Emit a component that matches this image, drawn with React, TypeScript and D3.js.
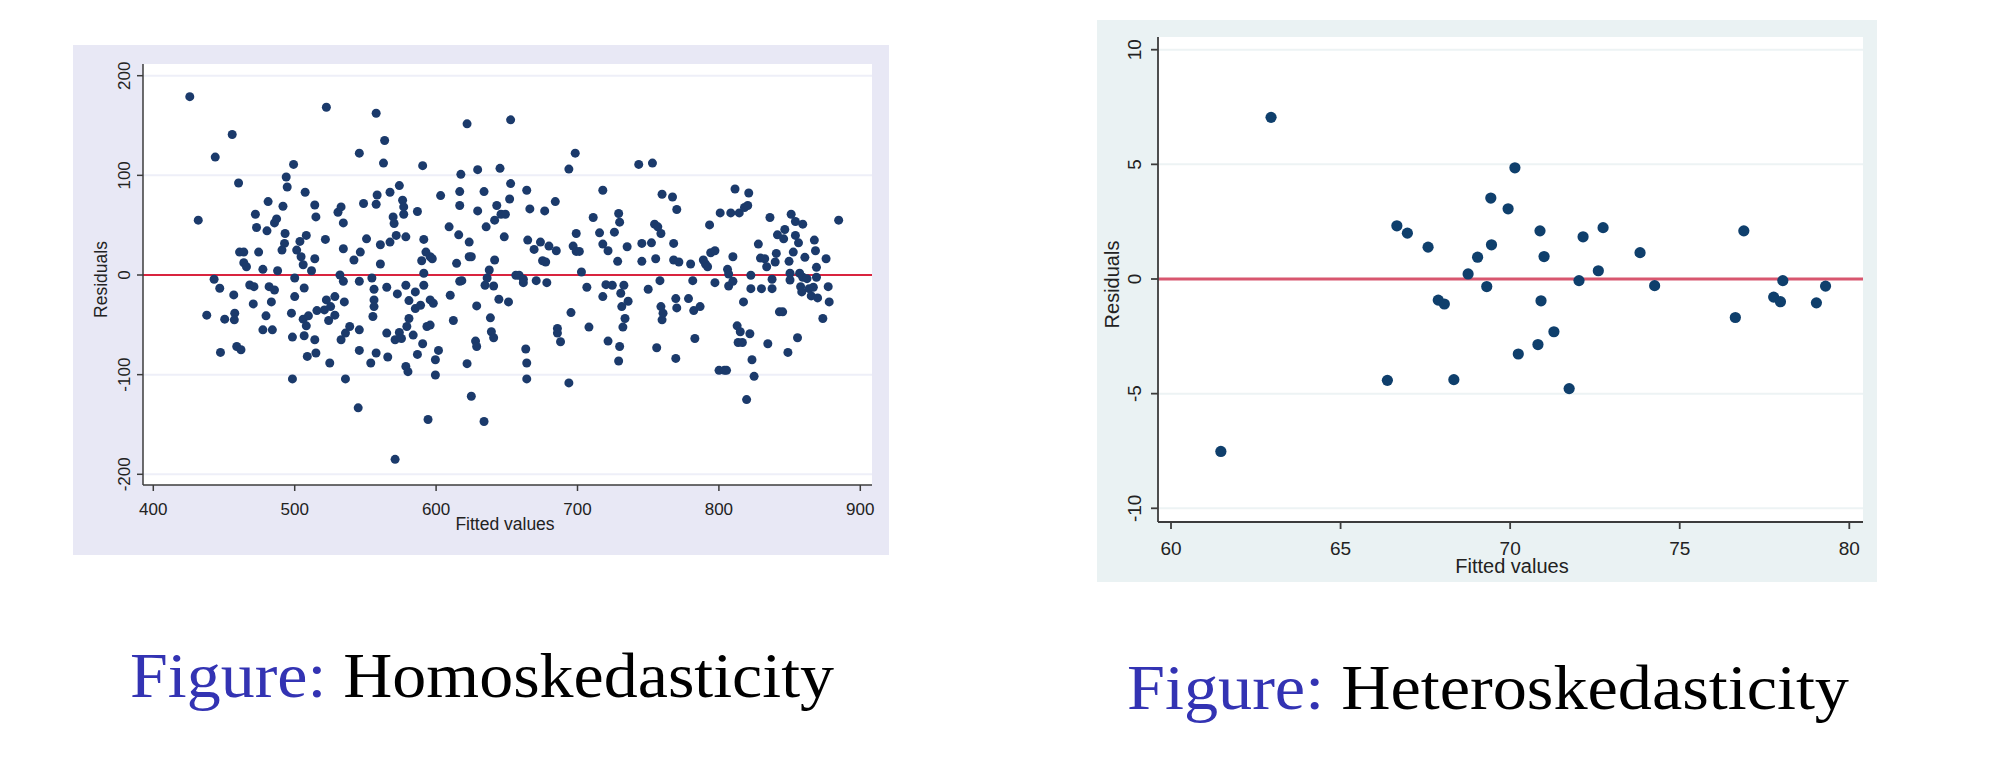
import React from "react";
import * as d3 from "d3";

// ---------- Data: Homoskedasticity ----------
const homoFitted = [
  425.8,431.8,437.8,443.8,443,447,447.5,450.5,455.8,456.9,457.6,457.3,460.3,459,462,461,464,464,465.9,468.2,
  471.2,472.2,473,470.7,474.5,477.5,477.5,479.7,481.2,480.4,481.9,483.5,484.2,485.7,487.2,485.7,487.9,491,491.7,492.8,
  493.2,494,494.7,497.7,498.4,498.4,499.2,500,500,501.4,503.7,504.5,506,506.7,506,507.4,506.7,508.2,508.2,508.9,
  509.7,511.9,514.2,515,514.2,514.2,515,515.7,521,521.7,522.4,522.4,524,524.8,525.4,528.4,528.4,530.6,532.8,532,
  532.8,534.4,534.4,534.4,535.9,535.1,535.9,538.9,541.9,544.9,545.7,545.7,545.7,545.7,546.4,548.7,550.8,553.8,554.6,556.1,
  556.1,556.1,555.3,557.6,558.3,557.6,557.6,560.6,560.6,562.8,563.6,565.1,565.1,565.8,567.4,567.4,569.6,570.3,571,571,
  571.8,572.6,574,574,575.5,576.3,577.1,577.1,578.6,578.6,579.3,578.6,580.1,580.8,580.8,583.8,585.3,585.3,586.8,586.8,
  589,589.8,590.5,591.3,591.3,591.3,590.5,592.8,593.5,594.3,595.8,595.8,595.8,597.3,598,599.5,599.5,601.7,603.2,609.2,
  610,612.2,614.5,616,616.7,616.7,617.5,616.7,618.2,621.9,621.9,623.4,623.4,624.9,624.9,627.9,628.7,628.7,629.4,629.4,
  633.9,633.9,634.6,635.4,636.1,637.6,638.4,639.1,640.7,640.7,641.4,641.4,642.9,645.2,644.4,645.9,648.2,649,651.2,652,
  652.7,652.7,656.4,658.7,661.7,661.7,664.1,663.4,664.1,664.1,664.8,666.3,669.3,670.8,673.8,675.3,676.8,677.5,678.3,679.8,
  684.3,685,685.8,685.8,688,693.9,693.9,695.4,696.9,698.4,699.1,699.1,701.3,702.8,706.6,708.1,711.1,715.6,717.9,717.9,
  717.9,720.1,721.6,721.6,724.6,726.1,728.4,729.1,729.8,729.8,729.1,730.6,731.3,732.1,732.8,733.6,735.1,735.8,743.3,745.5,
  745.5,750,752.3,753,754.5,755.3,756,756.8,758.3,759,759.8,759,759.8,760.5,767.2,768,768,769.5,770.2,770.2,
  769.5,771.7,778.5,780,781.5,782.2,783,786.7,789,790.5,792,793.4,794.2,797.2,797.2,800.9,800.1,803.9,805.4,806.1,
  806.9,806.9,808.4,809.9,809.9,811.4,812.9,813.6,814.4,815.1,816.6,817.4,818.1,819.6,820.4,821.1,821.9,822.6,822.6,823.4,
  824.9,827.9,829.4,830.1,832.4,833.8,834.6,836.1,837.6,837.6,839.8,840.6,841.4,842.8,845.1,845.8,846.6,848.8,849.6,851.1,
  850.3,850.3,852.6,854.1,855.6,856.3,857.1,857.8,858.6,859.3,854.1,859.3,860.8,862.3,863.8,865.3,866.8,867.5,868.3,869,
  869.8,869,873.5,875.8,877.3,878,884.7,
];
const homoResid = [
  179,55,-40.3,118.3,-4.3,-13.3,-77.7,-44.3,141,-20,-38.3,-45,92.3,-71.7,-75,23,23,12.3,8.3,-10,
  -11.7,61,47.7,-29,23,5.7,-55,-41,73.7,44.3,-11.7,-27,-55,52.3,56.3,-15,4.3,25,69,31.7,
  41.7,98.3,88.3,-38.3,-62.3,-104.3,111,-3,-21.7,25,33.7,18.3,10.3,-13,-44.3,83,-61,39.7,-51,-81.7,
  -41,4.3,70.3,58.3,16.3,-65,-78.3,-35.7,-35,35.7,168.3,-25,-45.7,-88.3,-31.7,-21.7,-40.3,63,68.3,0,
  -65,52.3,26.3,-6.3,-104.3,-27,-58.3,-51.7,15,-133.3,122.3,-6.3,-55,-75.7,23,71.7,36.3,-88.3,-3,-14.3,
  -25,-31.7,-41.7,162.3,80.3,71,-78.3,30.3,11,112.3,135,-12.3,-58.3,-82.3,33,83,58.3,51.7,-185,-65,
  39.7,-19,89.7,-57.7,-63.7,75,68.3,61,38.3,-10.3,-51.7,-91.7,-97,-25.7,-43.7,-60.3,-17,-33.7,63.7,-79.7,
  -30.3,14.3,109.7,35.7,1.7,-10.3,-69,23,-51.7,-145,18.3,-25,-50.3,16.3,-28.3,-85,-100.3,-75.7,79.7,48.3,
  -20.3,-45.7,11.7,40.3,-6.3,83.7,101,69.7,-5.7,-89,151.7,33,18.3,-121.7,18.3,-66.3,-71.7,-31,105.7,64.3,
  83.7,-147,-10.3,48.3,-3,5,-43,-57,-63,-11,15,55,69.7,107,-24.3,61,38.3,61,-27,76.3,
  91.7,155.7,-0.3,-0.3,-4.3,-7.7,85,-74.3,-88.3,-104.3,35,66.3,25.7,-5.7,33,14.3,64.3,13,-7.7,29,
  73.7,24.3,-53.7,-58.3,-67,106.3,-108.3,-37.7,29,122.3,41.7,23.7,23.7,3,-12.3,-52.3,57.7,42.3,85,31,
  -21.7,-9.7,24.3,-66.3,-10.3,43,13.7,61.7,53,-71.7,-86.3,-18.3,-31.7,-52.3,-10.3,-43.7,28.3,-26.3,111,13.7,
  31.7,-14.3,32.3,112.3,51,16.3,-73,48.3,-5.7,41.7,81,-31.7,-45,-38.3,78.3,15,31.7,-23.7,65.7,-33,
  -83.7,13,-23.7,11,-5.7,-35.7,-63.7,-31.7,15,11,8.3,50.3,22.3,24.3,-7.7,62.3,-95.7,-95.7,-95.7,5.7,
  1,-11,62.3,18.3,-6.3,86.3,-51,-67.7,62.3,-57,-67.7,-27,67.7,-125,69.7,82.3,-59,-0.3,-13.7,-85,
  -101.7,31,17,-13.7,16.3,8.3,-69,57.7,-13.7,-4.3,13,21.7,40.3,-37,-37,36.3,45.7,-77.7,13.7,61,
  1.7,-5,23,39.7,-63,32.3,1.7,-11.7,-17,-2.3,53.7,51,17.7,-3.7,-13.7,-21,-12.3,35,24.3,-2.3,
  -23,7.7,-43.7,16.3,-11.7,-27,55,
];
const homoXTicks = [400, 500, 600, 700, 800, 900];
const homoYTicks = [-200, -100, 0, 100, 200];

// ---------- Data: Heteroskedasticity ----------
const heteroFitted = [
  61.47, 62.95, 66.38, 66.66, 66.97, 67.58, 67.88, 68.06, 68.34, 68.76, 69.04, 69.31, 69.43, 69.45,
  69.94, 70.14, 70.24, 70.82, 70.88, 70.91, 71.0, 71.29, 71.74, 72.03, 72.15, 72.6, 72.74, 73.83,
  74.26, 76.64, 76.89, 77.77, 77.97, 78.04, 79.03, 79.3,
];
const heteroResid = [
  -7.52, 7.05, -4.42, 2.32, 2.0, 1.39, -0.92, -1.09, -4.39, 0.22, 0.95, -0.33, 3.53, 1.49,
  3.06, 4.85, -3.27, -2.86, 2.1, -0.95, 0.98, -2.3, -4.78, -0.07, 1.84, 0.36, 2.24, 1.15,
  -0.29, -1.68, 2.1, -0.79, -0.99, -0.07, -1.04, -0.31,
];
const heteroXTicks = [60, 65, 70, 75, 80];
const heteroYTicks = [-10, -5, 0, 5, 10];

const captionPrefix = "Figure:";
const captions = ["Homoskedasticity", "Heteroskedasticity"];

type PanelProps = {
  fitted: number[];
  resid: number[];
  xTicks: number[];
  yTicks: number[];
  bg: { x0: number; y0: number; x1: number; y1: number; fill: string };
  plot: { x0: number; y0: number; x1: number; y1: number };
  xRange: [number, number];
  yRange: [number, number];
  r: number;
  dotColor: string;
  refColor: string;
  refWidth: number;
  gridColor: string;
  tickFont: number;
  titleFont: number;
  yTickLabelX: number;
  yTitleX: number;
  xTickLabelY: number;
  xTitleY: number;
  xTitleX: number;
  axisWidth: number;
  tickLen: number;
};

function Panel(p: PanelProps) {
  const xDom = [p.xTicks[0], p.xTicks[p.xTicks.length - 1]];
  const yDom = [p.yTicks[0], p.yTicks[p.yTicks.length - 1]];
  const x = d3.scaleLinear().domain(xDom).range(p.xRange);
  const y = d3.scaleLinear().domain(yDom).range(p.yRange);
  const font = "Arial, 'Liberation Sans', sans-serif";
  const axisColor = "#3c3c3c";
  const pts = d3.zip(p.fitted, p.resid);
  return (
    <g>
      <rect x={p.bg.x0} y={p.bg.y0} width={p.bg.x1 - p.bg.x0} height={p.bg.y1 - p.bg.y0} fill={p.bg.fill} />
      <rect x={p.plot.x0} y={p.plot.y0} width={p.plot.x1 - p.plot.x0} height={p.plot.y1 - p.plot.y0} fill="#ffffff" />
      {p.yTicks.map((t) => (
        <line key={"g" + t} x1={p.plot.x0} x2={p.plot.x1} y1={y(t)} y2={y(t)} stroke={p.gridColor} strokeWidth={2} />
      ))}
      <line x1={p.plot.x0} x2={p.plot.x1} y1={y(0)} y2={y(0)} stroke={p.refColor} strokeWidth={p.refWidth} />
      {pts.map(([fv, rv], i) => (
        <circle key={i} cx={x(fv)} cy={y(rv)} r={p.r} fill={p.dotColor} />
      ))}
      <line x1={p.plot.x0} x2={p.plot.x0} y1={p.plot.y0} y2={p.plot.y1} stroke={axisColor} strokeWidth={p.axisWidth} />
      <line x1={p.plot.x0} x2={p.plot.x1} y1={p.plot.y1} y2={p.plot.y1} stroke={axisColor} strokeWidth={p.axisWidth} />
      {p.yTicks.map((t) => (
        <g key={"yt" + t}>
          <line x1={p.plot.x0 - p.tickLen} x2={p.plot.x0} y1={y(t)} y2={y(t)} stroke={axisColor} strokeWidth={p.axisWidth} />
          <text
            transform={`translate(${p.yTickLabelX},${y(t)}) rotate(-90)`}
            textAnchor="middle"
            dominantBaseline="central"
            fontFamily={font}
            fontSize={p.tickFont}
            fill="#222"
          >
            {String(t)}
          </text>
        </g>
      ))}
      {p.xTicks.map((t) => (
        <g key={"xt" + t}>
          <line x1={x(t)} x2={x(t)} y1={p.plot.y1} y2={p.plot.y1 + p.tickLen} stroke={axisColor} strokeWidth={p.axisWidth} />
          <text x={x(t)} y={p.xTickLabelY} textAnchor="middle" fontFamily={font} fontSize={p.tickFont} fill="#222">
            {String(t)}
          </text>
        </g>
      ))}
      <text
        transform={`translate(${p.yTitleX},${(p.plot.y0 + p.plot.y1) / 2 + 5}) rotate(-90)`}
        textAnchor="middle"
        dominantBaseline="central"
        fontFamily={font}
        fontSize={p.titleFont}
        fill="#222"
      >
        Residuals
      </text>
      <text x={p.xTitleX} y={p.xTitleY} textAnchor="middle" fontFamily={font} fontSize={p.titleFont} fill="#222">
        Fitted values
      </text>
    </g>
  );
}

function Caption({ x, y, width, label }: { x: number; y: number; width: number; label: string }) {
  return (
    <text
      x={x}
      y={y}
      fontFamily="'Liberation Serif', 'Times New Roman', serif"
      fontSize={64}
      textLength={width}
      lengthAdjust="spacingAndGlyphs"
    >
      <tspan fill="#3333b3">{captionPrefix}</tspan>
      <tspan fill="#000"> {label}</tspan>
    </text>
  );
}

export default function App() {
  return (
    <svg
      width={2000}
      height={768}
      style={{ position: "absolute", left: 0, top: 0, background: "#ffffff" }}
    >
      <rect x={0} y={0} width={2000} height={768} fill="#ffffff" />
      <Panel
        fitted={homoFitted}
        resid={homoResid}
        xTicks={homoXTicks}
        yTicks={homoYTicks}
        bg={{ x0: 73, y0: 45, x1: 889, y1: 555, fill: "#e8e8f5" }}
        plot={{ x0: 143, y0: 64, x1: 872, y1: 485 }}
        xRange={[153.3, 860.3]}
        yRange={[474.3, 75.7]}
        r={4.5}
        dotColor="#1b3a6b"
        refColor="#d9243f"
        refWidth={2}
        gridColor="#eeeff8"
        tickFont={17}
        titleFont={17.5}
        yTickLabelX={124}
        yTitleX={101}
        xTickLabelY={515}
        xTitleY={530}
        xTitleX={505}
        axisWidth={1.5}
        tickLen={6}
      />
      <Panel
        fitted={heteroFitted}
        resid={heteroResid}
        xTicks={heteroXTicks}
        yTicks={heteroYTicks}
        bg={{ x0: 1097, y0: 20, x1: 1877, y1: 582, fill: "#eaf2f3" }}
        plot={{ x0: 1158, y0: 37, x1: 1863, y1: 522 }}
        xRange={[1171, 1849.3]}
        yRange={[508.3, 49.7]}
        r={5.6}
        dotColor="#0f3f6c"
        refColor="#d8566f"
        refWidth={3}
        gridColor="#edf3f4"
        tickFont={19}
        titleFont={20}
        yTickLabelX={1134}
        yTitleX={1112}
        xTickLabelY={555}
        xTitleY={573}
        xTitleX={1512}
        axisWidth={1.8}
        tickLen={7}
      />
      <Caption x={130} y={697} width={704} label={captions[0]} />
      <Caption x={1127} y={709} width={722} label={captions[1]} />
    </svg>
  );
}
